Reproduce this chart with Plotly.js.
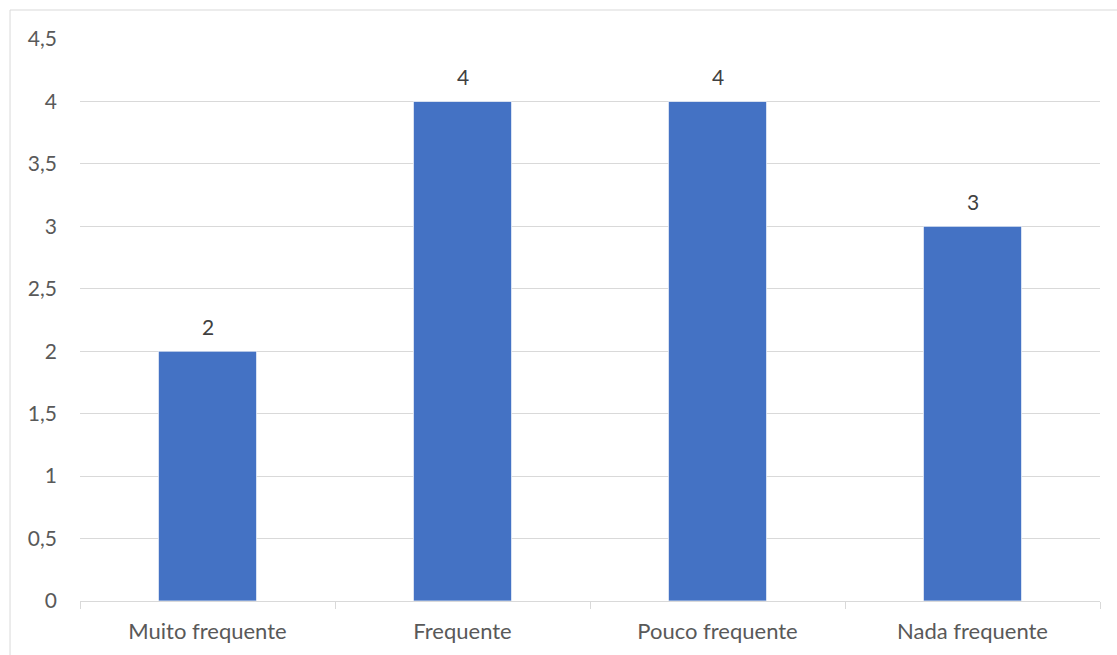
<!DOCTYPE html>
<html>
<head>
<meta charset="utf-8">
<script src="https://cdn.plot.ly/plotly-3.0.1.min.js"></script>
<style>
  html, body { margin: 0; padding: 0; background: #ffffff; }
  #chart { width: 1117px; height: 655px; }
</style>
</head>
<body>
<div id="chart"></div>
<script>
// Frequência das respostas por categoria
const categories = ['Muito frequente', 'Frequente', 'Pouco frequente', 'Nada frequente'];
const counts = [2, 4, 4, 3];
const yTickValues = [0, 0.5, 1, 1.5, 2, 2.5, 3, 3.5, 4, 4.5];
const yTickLabels = ['0', '0,5', '1', '1,5', '2', '2,5', '3', '3,5', '4', '4,5'];

const FONT = 'Lato, "Open Sans", "Liberation Sans", sans-serif';
const GRID = '#d9d9d9';
const SIZE = 21;

const bars = {
  type: 'bar',
  x: categories,
  y: counts,
  marker: { color: '#4472C4', line: { color: 'rgba(255,255,255,0.7)', width: 1 } },
  hoverinfo: 'x+y'
};

// value labels above each bar, on a white plate over the gridlines
const labels = categories.map((c, i) => ({
  x: c,
  y: counts[i],
  xref: 'x',
  yref: 'y',
  text: String(counts[i]),
  showarrow: false,
  yanchor: 'bottom',
  yshift: 8,
  bgcolor: '#ffffff',
  borderpad: 3,
  font: { family: FONT, size: SIZE, color: '#404040' }
}));

const layout = {
  width: 1117,
  height: 655,
  margin: { l: 80, r: 17, t: 39, b: 54 },
  paper_bgcolor: '#ffffff',
  plot_bgcolor: '#ffffff',
  showlegend: false,
  bargap: 0.615,
  font: { family: FONT, size: SIZE, color: '#595959' },
  xaxis: {
    type: 'category',
    showgrid: false,
    showline: true,
    linecolor: GRID,
    linewidth: 1,
    ticks: 'outside',
    tickson: 'boundaries',
    ticklen: 7,
    tickcolor: GRID,
    ticklabelstandoff: 11,
    tickfont: { family: FONT, size: 22, color: '#595959' },
    fixedrange: true
  },
  yaxis: {
    range: [0, 4.5],
    tickmode: 'array',
    tickvals: yTickValues,
    ticktext: yTickLabels,
    showgrid: true,
    gridcolor: GRID,
    gridwidth: 1,
    zeroline: false,
    showline: false,
    ticks: '',
    ticklabelstandoff: 22,
    tickfont: { family: FONT, size: SIZE, color: '#595959' },
    fixedrange: true
  },
  annotations: labels,
  shapes: [{
    type: 'rect',
    xref: 'paper', yref: 'paper',
    x0: -0.0686, x1: 1.2,
    y0: -0.3, y1: 1.0516,
    line: { color: GRID, width: 1 },
    fillcolor: 'rgba(0,0,0,0)',
    layer: 'below'
  }]
};

Plotly.newPlot('chart', [bars], layout, { displayModeBar: false, staticPlot: true });
</script>
</body>
</html>
